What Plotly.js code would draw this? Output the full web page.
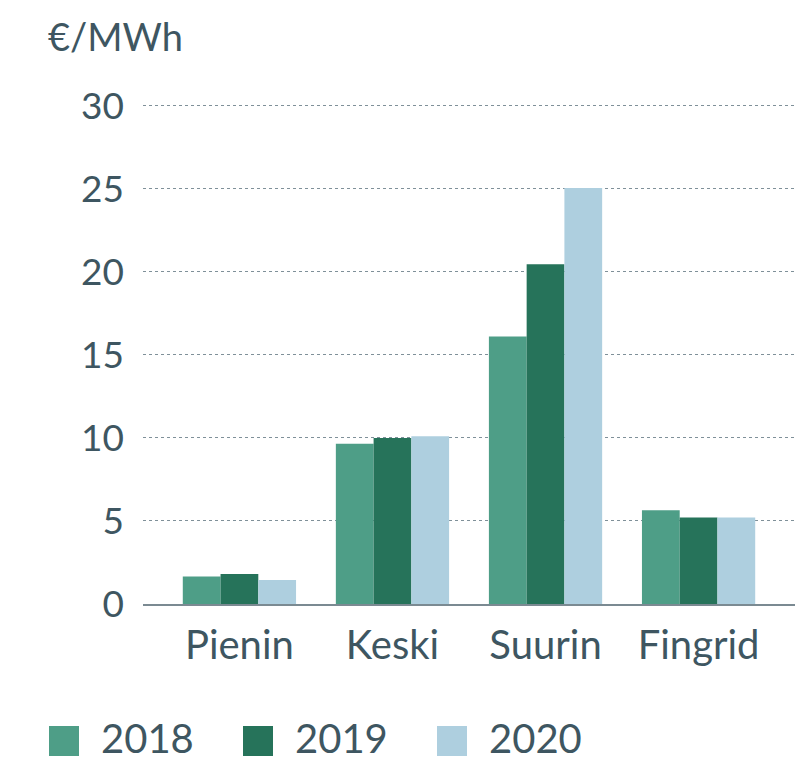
<!DOCTYPE html>
<html>
<head>
<meta charset="utf-8">
<script src="https://cdn.plot.ly/plotly-3.0.1.min.js"></script>
<style>html,body{margin:0;padding:0;background:#fff;}#chart{width:809px;height:764px;}</style>
</head>
<body>
<div id="chart"></div>
<script>
const categories = ["Pienin", "Keski", "Suurin", "Fingrid"];
const seriesNames = ["2018", "2019", "2020"];
const values2018 = [1.65, 9.65, 16.1, 5.65];
const values2019 = [1.8, 10.0, 20.45, 5.2];
const values2020 = [1.45, 10.1, 25.05, 5.2];
const yTicks = [0, 5, 10, 15, 20, 25, 30];
const unitLabel = "€/MWh";

const colors = ["#4e9e87", "#26735a", "#aecfdf"];
const textColor = "#3e5661";
const fontFam = "Lato, 'Open Sans', sans-serif";
const allValues = [values2018, values2019, values2020];

const W = 809, H = 764;
const M = {l: 143, r: 14, t: 104, b: 160};
const pw = W - M.l - M.r, ph = H - M.t - M.b;
const px = p => (p - M.l) / pw;
const py = p => (H - M.b - p) / ph;

const traces = seriesNames.map((name, i) => ({
  type: "bar",
  name: name,
  x: categories,
  y: allValues[i],
  marker: {color: colors[i], line: {width: 0}},
  hoverinfo: "x+y+name"
}));

const shapes = [];
const annotations = [{
  xref: "paper", yref: "paper",
  x: px(46), y: py(36),
  xanchor: "left", yanchor: "middle",
  text: unitLabel, showarrow: false,
  font: {family: fontFam, size: 38, color: textColor}
}];
const legendStarts = [49, 243, 437];
seriesNames.forEach((name, i) => {
  const x0 = legendStarts[i];
  shapes.push({
    type: "rect", xref: "paper", yref: "paper",
    x0: px(x0), x1: px(x0 + 30), y0: py(756), y1: py(726),
    fillcolor: colors[i], line: {width: 0}
  });
  annotations.push({
    xref: "paper", yref: "paper",
    x: px(x0 + 50), y: py(738),
    xanchor: "left", yanchor: "middle",
    text: name, showarrow: false,
    font: {family: fontFam, size: 40, color: textColor}
  });
});

const layout = {
  width: W, height: H,
  margin: M,
  paper_bgcolor: "#fff", plot_bgcolor: "#fff",
  barmode: "group",
  bargap: 0.26,
  bargroupgap: 0,
  showlegend: false,
  font: {family: fontFam, color: textColor},
  xaxis: {
    range: [-0.63, 3.63],
    showgrid: false,
    showline: true, linecolor: "#7b8a92", linewidth: 2,
    ticks: "", ticklabelstandoff: 5,
    tickfont: {family: fontFam, size: 40, color: textColor},
    fixedrange: true
  },
  yaxis: {
    range: [0, 30.1],
    tickvals: yTicks,
    ticktext: yTicks.map(String),
    showgrid: true, gridcolor: "#7f9099", gridwidth: 1, griddash: "dot",
    zeroline: false, showline: false,
    ticks: "", ticklabelstandoff: 18,
    tickfont: {family: fontFam, size: 37, color: textColor},
    fixedrange: true
  },
  shapes: shapes,
  annotations: annotations
};

Plotly.newPlot("chart", traces, layout, {displayModeBar: false, staticPlot: true});
</script>
</body>
</html>
